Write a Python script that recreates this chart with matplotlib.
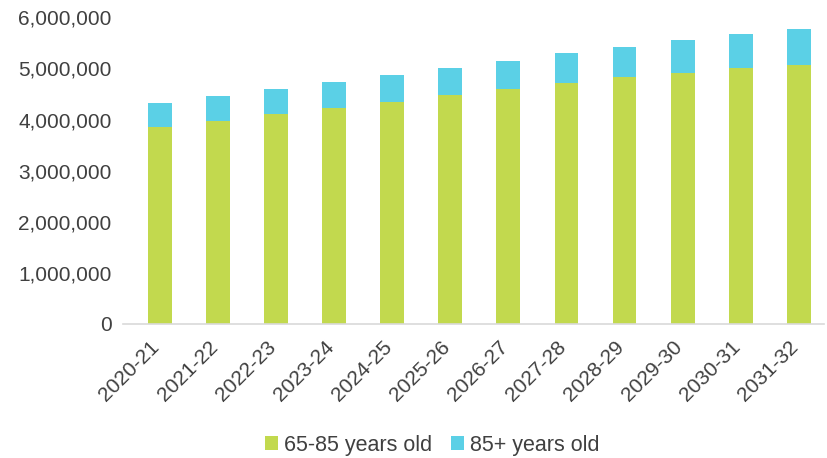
import matplotlib.pyplot as plt
import matplotlib.transforms as mtransforms
from matplotlib.ticker import FuncFormatter

plt.rcParams['font.family'] = ['Liberation Sans', 'DejaVu Sans']

# Financial years and population estimates
years = ['2020-21', '2021-22', '2022-23', '2023-24', '2024-25', '2025-26',
         '2026-27', '2027-28', '2028-29', '2029-30', '2030-31', '2031-32']
age_65_85 = [3860000, 3970000, 4100000, 4220000, 4340000, 4480000,
             4600000, 4720000, 4830000, 4920000, 5000000, 5070000]
totals = [4320000, 4460000, 4590000, 4730000, 4870000, 5010000,
          5150000, 5300000, 5430000, 5550000, 5670000, 5770000]
age_85_plus = [t - a for t, a in zip(totals, age_65_85)]

green = '#C2D94E'
cyan = '#5BD0E6'
text_col = '#404040'

fig = plt.figure(figsize=(8.28, 4.58), dpi=100)
ax = fig.add_axes([0.148, 0.293, 0.847, 0.669])

x = range(len(years))
ax.bar(x, age_65_85, width=0.41, color=green, label='65-85 years old')
ax.bar(x, age_85_plus, width=0.41, bottom=age_65_85, color=cyan, label='85+ years old')

ax.set_ylim(0, 6000000)
ax.set_xlim(-0.64, 11.43)
ax.yaxis.set_major_formatter(FuncFormatter(lambda v, p: f'{int(v):,}'))

for s in ['top', 'right', 'left']:
    ax.spines[s].set_visible(False)
ax.spines['bottom'].set_color('#D9D9D9')
ax.spines['bottom'].set_linewidth(1.2)

ax.tick_params(axis='y', length=0, labelsize=15, labelcolor=text_col, pad=8)
ax.tick_params(axis='x', length=0, labelsize=15, labelcolor=text_col, pad=6)
ax.set_xticks(list(x))
ax.set_xticklabels(years, rotation=45, ha='right', rotation_mode='anchor')

# Excel-style rotated labels sit a bit left of the tick
shift = mtransforms.ScaledTranslation(-0.10, -0.05, fig.dpi_scale_trans)
for lab in ax.get_xticklabels():
    lab.set_transform(lab.get_transform() + shift)

leg = fig.legend(loc='center', bbox_to_anchor=(0.522, 0.028), ncol=2, frameon=False,
                 fontsize=15.5, handlelength=0.6, handleheight=0.6, handletextpad=0.25,
                 columnspacing=0.9)
for t in leg.get_texts():
    t.set_color(text_col)

fig.savefig('out.png', dpi=100)
